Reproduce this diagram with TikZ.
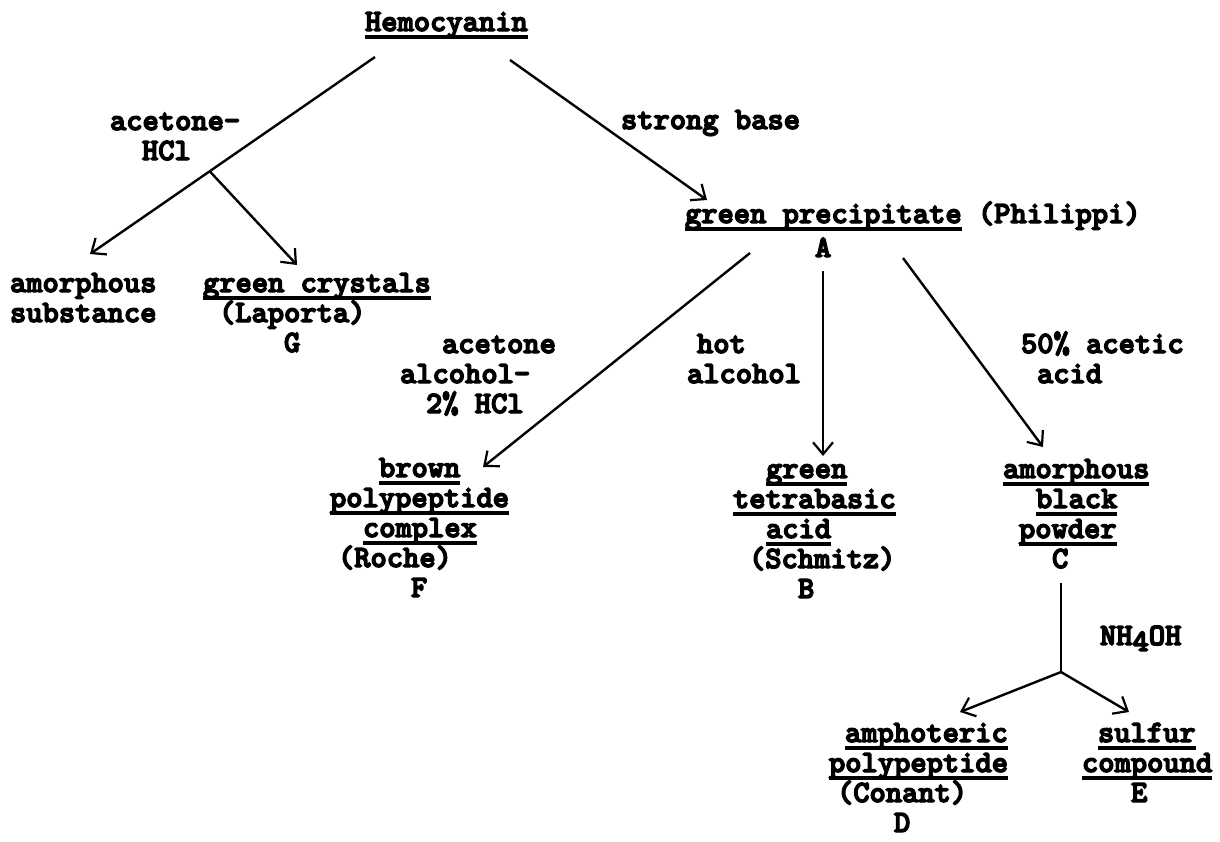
\documentclass[tikz,border=0pt]{standalone}
\usepackage{fontspec}
\usetikzlibrary{arrows.meta,calc}
\newfontfamily\tw{lmmonolt10-bold.otf}[FakeBold=4.5]
\newcommand\uln[1]{\setbox0=\hbox{#1}\rlap{\rule[-7.5pt]{\wd0}{3.4pt}}\box0\relax}
\newcommand\sk[1]{\hspace*{#1pt}}
\newcommand\ft{\rule{0pt}{24pt}}
\lineskiplimit=-50pt
\begin{document}
\begin{tikzpicture}[x=1pt,y=-1pt,
  tx/.style={anchor=north west, yshift=24pt, inner sep=0pt, outer sep=0pt, align=left,
             font={\tw\fontsize{31}{30}\selectfont}},
  arr/.style={line width=2.4pt, -{Straight Barb[length=12pt,width=20pt,line width=2.2pt]}},
  ln/.style={line width=2.4pt}]
\fill[white] (0,0) rectangle (1220,841);
\useasboundingbox (0,0) rectangle (1220,841);
% nodes
\node[tx] (hemo) at (365,31) {\ft\uln{Hemocyanin}};
\node[tx] (ahcl) at (110,130) {\ft acetone-\\\sk{32}HCl};
\node[tx] (amsub) at (10,292) {\ft amorphous\\substance};
\node[tx] (G) at (203,292) {\ft\uln{green crystals}\\\sk{16}(Laporta)\\\sk{81}G};
\node[tx] (sb) at (621,129) {\ft strong base};
\node[tx] (A) at (685,223) {\ft\uln{green precipitate} (Philippi)\\[4pt]\sk{130}A};
\node[tx] (aah) at (400,353) {\ft\sk{42}acetone\\alcohol-\\\sk{26}2\% HCl};
\node[tx] (hot) at (687,353) {\ft\sk{10}hot\\alcohol};
\node[tx] (aa) at (1021,353) {\ft 50\% acetic\\\sk{16}acid};
\node[tx] (F) at (330,477) {\ft\sk{49}\uln{brown}\\\uln{polypeptide}\\\sk{33}\uln{complex}\\\sk{8}(Roche)\\\sk{81}F};
\node[tx] (B) at (733,478) {\ft\sk{33}\uln{green}\\\uln{tetrabasic}\\\sk{33}\uln{acid}\\\sk{16}(Schmitz)\\\sk{65}B};
\node[tx] (C) at (1003,478) {\ft\uln{amorphous}\\\sk{33}\uln{black}\\\sk{16}\uln{powder}\\\sk{49}C};
\node[tx] (nh) at (1100,645) {\ft NH\raisebox{-6pt}{4}OH};
\node[tx] (D) at (829,742) {\ft\sk{16}\uln{amphoteric}\\\uln{polypeptide}\\\sk{8}(Conant)\\\sk{65}D};
\node[tx] (E) at (1082,742) {\ft\sk{16}\uln{sulfur}\\\uln{compound}\\\sk{49}E};
% connector ends
\coordinate (h1) at (375,57);
\coordinate (h2) at (510,60);
\coordinate (t1) at (90,254);
\coordinate (t2) at (297,265);
\coordinate (b1) at ($(h1)!0.58!(t1)$);
\coordinate (t3) at (707,200);
\coordinate (a1) at (750,253);
\coordinate (t4) at (483,467);
\coordinate (a2) at (823,271);
\coordinate (t5) at (823,456);
\coordinate (a3) at (903,258);
\coordinate (t6) at (1043,447);
\coordinate (c1) at (1061,583);
\coordinate (b2) at (1061,672);
\coordinate (t7) at (960,712);
\coordinate (t8) at (1129,712);
% connectors
\draw[arr] (h1) -- (t1);
\draw[arr] (b1) -- (t2);
\draw[arr] (h2) -- (t3);
\draw[arr] (a1) -- (t4);
\draw[arr] (a2) -- (t5);
\draw[arr] (a3) -- (t6);
\draw[ln] (c1) -- (b2);
\draw[arr] (b2) -- (t7);
\draw[arr] (b2) -- (t8);
\end{tikzpicture}
\end{document}
